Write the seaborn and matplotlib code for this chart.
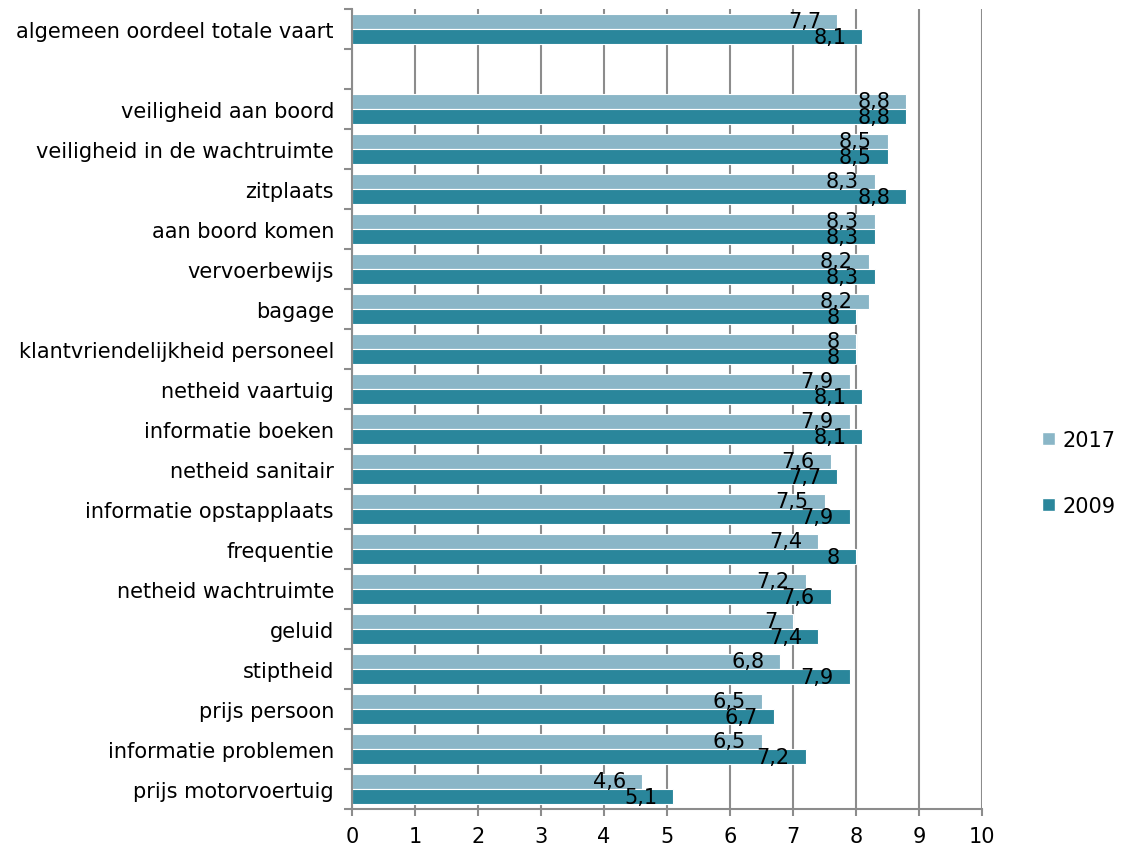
import numpy as np
import pandas as pd
import seaborn as sns
from matplotlib import pyplot as plt
from matplotlib.patches import Patch

categories = ["algemeen oordeel totale vaart", "",
              "veiligheid aan boord", "veiligheid in de wachtruimte", "zitplaats",
              "aan boord komen", "vervoerbewijs", "bagage",
              "klantvriendelijkheid personeel", "netheid vaartuig", "informatie boeken",
              "netheid sanitair", "informatie opstapplaats", "frequentie",
              "netheid wachtruimte", "geluid", "stiptheid", "prijs persoon",
              "informatie problemen", "prijs motorvoertuig"]
scores2017 = [7.7, np.nan, 8.8, 8.5, 8.3, 8.3, 8.2, 8.2, 8.0, 7.9, 7.9, 7.6, 7.5, 7.4,
              7.2, 7.0, 6.8, 6.5, 6.5, 4.6]
scores2009 = [8.1, np.nan, 8.8, 8.5, 8.8, 8.3, 8.3, 8.0, 8.0, 8.1, 8.1, 7.7, 7.9, 8.0,
              7.6, 7.4, 7.9, 6.7, 7.2, 5.1]
years = ["2017", "2009"]
colors = ["#8ab6c7", "#2a869b"]

df = pd.DataFrame({
    "onderdeel": categories * 2,
    "jaar": ["2017"] * len(categories) + ["2009"] * len(categories),
    "score": scores2017 + scores2009,
})
df = df.dropna()

sns.set_style("white")
plt.rcParams["font.family"] = ["DejaVu Sans"]
plt.rcParams["text.color"] = "black"
plt.rcParams["xtick.color"] = "black"
plt.rcParams["ytick.color"] = "black"
fs = 15

fig = plt.figure(figsize=(11.21, 8.53), dpi=100)
ax = fig.add_axes([352 / 1121, 1 - 810 / 853, 630 / 1121, 800 / 853])

sns.barplot(data=df, y="onderdeel", x="score", hue="jaar", order=categories,
            hue_order=years, palette=colors, saturation=1, orient="h", width=0.76,
            edgecolor="white", linewidth=0.8, legend=False, ax=ax)

# value labels, right-aligned just inside the bar end
for cont in ax.containers:
    for bar in cont:
        w = bar.get_width()
        if np.isnan(w) or w == 0:
            continue
        txt = f"{w:g}".replace(".", ",")
        ax.annotate(txt, (w, bar.get_y() + bar.get_height() / 2),
                    xytext=(-16, 0), textcoords="offset pixels",
                    ha="right", va="center", fontsize=fs, color="black")

ax.set_xlim(0, 10)
ax.set_ylim(len(categories) - 0.5, -0.5)
ax.set_xticks(range(0, 11))
ax.set_xticklabels([str(i) for i in range(0, 11)], fontsize=fs)
ax.set_yticks(range(len(categories)))
ax.set_yticklabels(categories, fontsize=fs)
ax.set_yticks(np.arange(-0.5, len(categories)), minor=True)
ax.tick_params(axis="y", which="major", length=0, pad=13)
ax.tick_params(axis="y", which="minor", length=6, width=1.5, color="#8c8c8c", left=True)
ax.tick_params(axis="x", length=5, width=1.5, color="#8c8c8c", bottom=True, pad=7)
ax.set_xlabel("")
ax.set_ylabel("")

ax.grid(axis="x", color="#8c8c8c", linewidth=1.5)
ax.set_axisbelow(True)
for side in ["top", "right"]:
    ax.spines[side].set_visible(False)
for side in ["left", "bottom"]:
    ax.spines[side].set_color("#8c8c8c")
    ax.spines[side].set_linewidth(1.5)

handles = [Patch(facecolor=c, label=y) for c, y in zip(colors, years)]
fig.legend(handles=handles, loc="center left", bbox_to_anchor=(1042 / 1121, 1 - 474 / 853),
           frameon=False, fontsize=fs, handlelength=0.6, handleheight=0.6,
           handletextpad=0.4, labelspacing=2.2, borderpad=0, borderaxespad=0)

fig.savefig("out.png", dpi=100)
